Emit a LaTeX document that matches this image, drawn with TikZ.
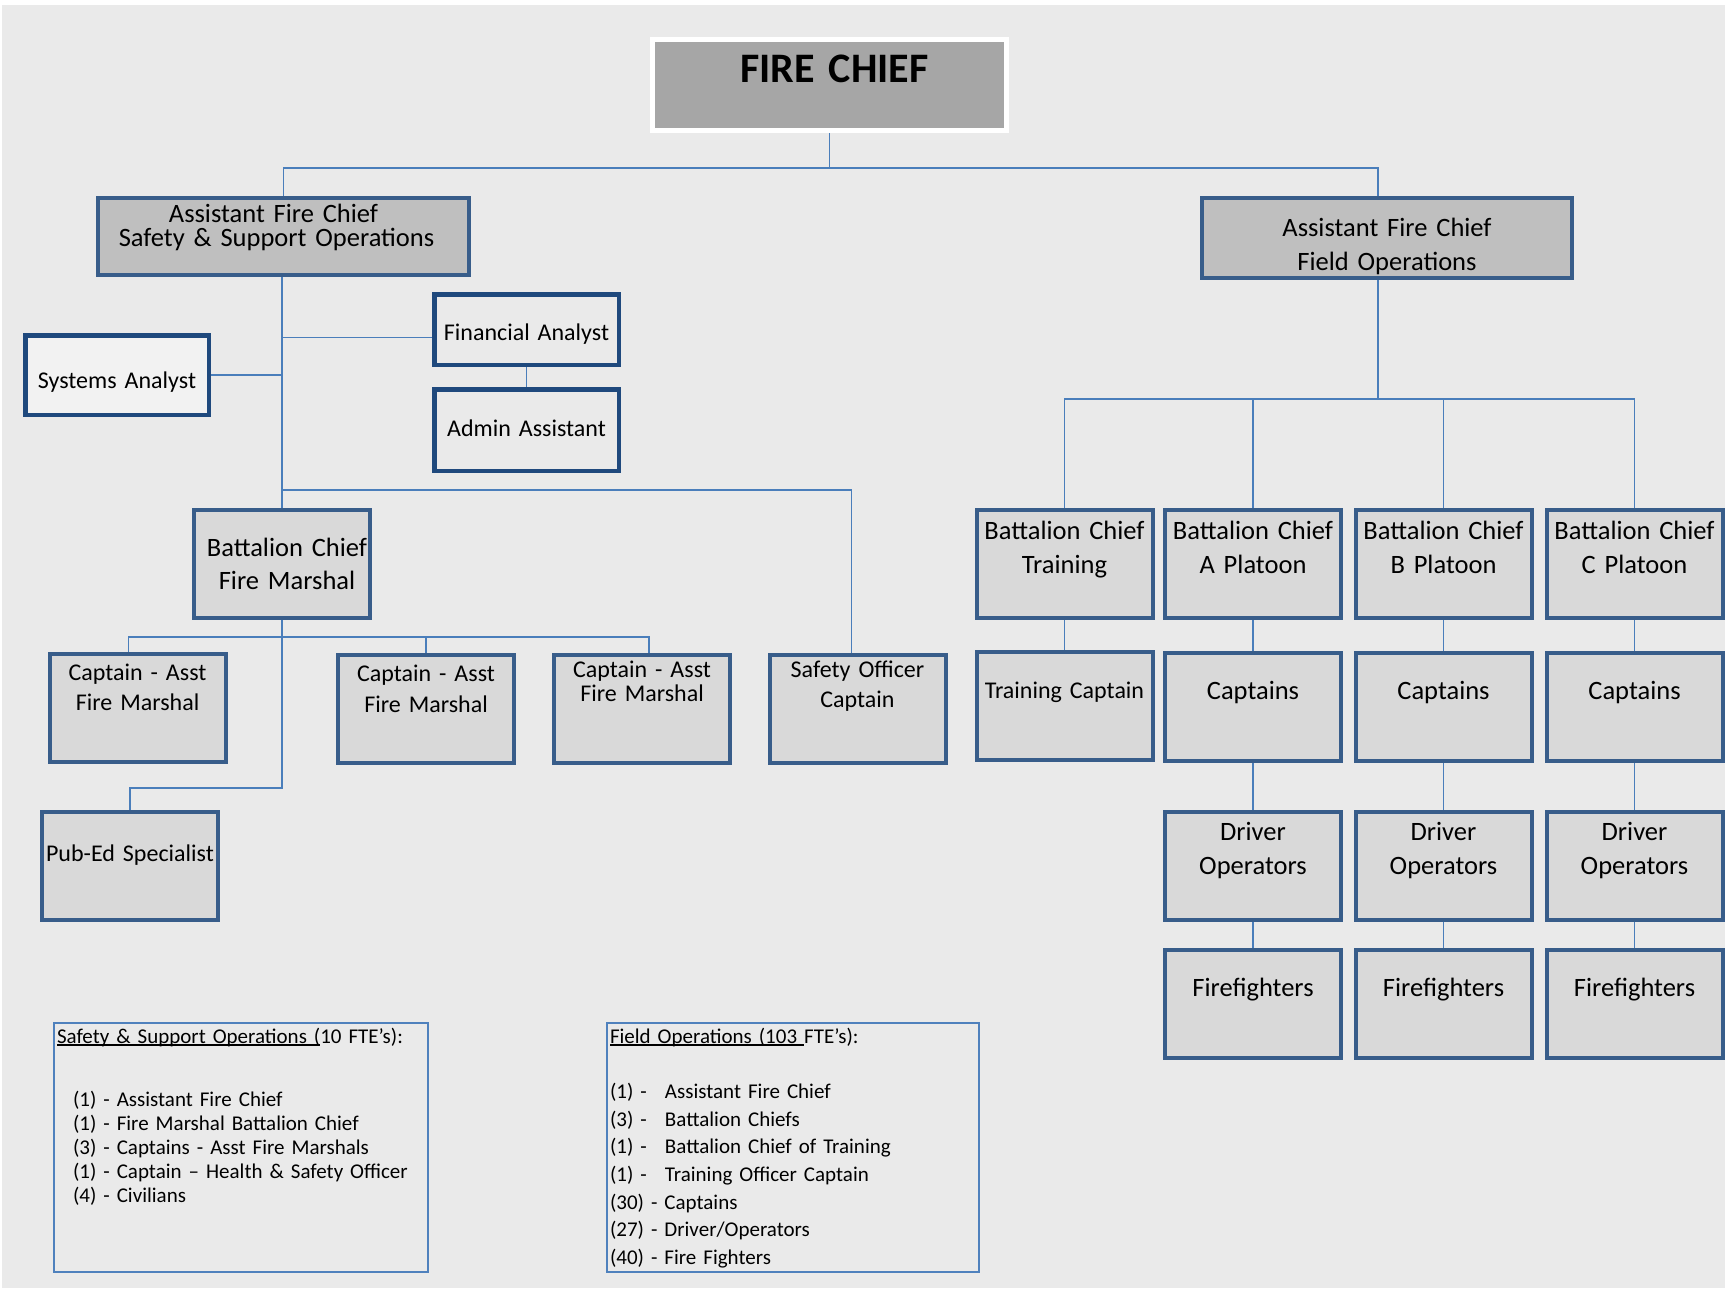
\documentclass[tikz,border=0pt]{standalone}
\usepackage{fontspec}
\setmainfont{Carlito}
\usepackage{xcolor}
\usepackage{tikz}

\definecolor{pagebg}{HTML}{EAEAEA}
\definecolor{boxline}{HTML}{385D8A}
\definecolor{navyline}{HTML}{1F497D}
\definecolor{wireblue}{HTML}{4A7EBB}
\definecolor{chiefgray}{HTML}{A6A6A6}
\definecolor{asstgray}{HTML}{BFBFBF}
\definecolor{unitgray}{HTML}{D9D9D9}
\definecolor{sysfill}{HTML}{F2F2F2}
\definecolor{noteline}{HTML}{4F81BD}

\newcommand\ulText[1]{\setbox0\hbox{#1}\rlap{\rule[-2.5pt]{\wd0}{1.3pt}}\box0\relax}

\begin{document}
\begin{tikzpicture}[x=1pt,y=-1pt,
  wire/.style={draw=wireblue,line width=1.5pt},
  box/.style={draw=boxline,line width=4pt,fill=unitgray,inner sep=0pt,align=center,text width=176pt},
  unitbox/.style 2 args={box,text height=#1,text depth=#2},
  staffbox/.style={draw=navyline,line width=4.5pt,fill=pagebg,inner sep=0pt,align=center,text width=184.5pt,smalltext},
  bigtext/.style={font=\fontsize{26.5}{34}\selectfont},
  smalltext/.style={font=\fontsize{24}{30.5}\selectfont},
  note/.style={draw=noteline,line width=2pt,inner xsep=3pt,inner ysep=0pt,align=left,text width=368pt,text height=20pt,text depth=229pt}]
\fill[pagebg] (2,5) rectangle (1725,1288);
\useasboundingbox (0,0) rectangle (1725,1290);

% top of the chart
\node[draw=white,line width=5pt,fill=chiefgray,inner sep=0pt,align=center,text width=354pt,text height=43.5pt,text depth=47.5pt,font=\fontsize{42}{50}\selectfont\bfseries] (chief) at (829.5,85) {\hspace*{10pt}FIRE CHIEF};
\node[box,fill=asstgray,text width=371pt,text height=24.7pt,text depth=52.3pt,font=\fontsize{26.5}{24}\selectfont] (asstSafety) at (283.5,236.5) {\hspace*{-20pt}Assistant Fire Chief\\\hspace*{-14pt}Safety \& Support Operations};
\node[box,fill=asstgray,text width=370pt,text height=38pt,text depth=42pt,bigtext] (asstField) at (1387,238) {Assistant Fire Chief\\Field Operations};

% safety & support side
\node[staffbox,text height=45.75pt,text depth=24.75pt] (finAnalyst) at (526.5,329.5) {Financial Analyst};
\node[staffbox,text height=47.5pt,text depth=34pt] (adminAsst) at (526.5,430) {Admin Assistant};
\node[staffbox,fill=sysfill,text width=183.5pt,text height=52.75pt,text depth=26.75pt] (sysAnalyst) at (117,375) {Systems Analyst};
\node[unitbox={46.7pt}{61.3pt},font=\fontsize{26.5}{33}\selectfont] (bcMarshal) at (282,564) {\hspace*{10pt}Battalion Chief\\\hspace*{10pt}Fire Marshal};
\node[unitbox={26pt}{82pt},smalltext] (capOne) at (137.5,708) {Captain - Asst\\Fire Marshal};
\node[unitbox={27pt}{81pt},smalltext] (capTwo) at (426,708.5) {Captain - Asst\\Fire Marshal};
\node[unitbox={22.7pt}{85.3pt},font=\fontsize{24}{24}\selectfont] (capThree) at (642,708.5) {Captain - Asst\\Fire Marshal};
\node[unitbox={22.7pt}{85.3pt},font=\fontsize{24}{30}\selectfont] (safetyCapt) at (857.5,708.5) {Safety Officer\\Captain};
\node[unitbox={49.7pt}{58.3pt},smalltext] (pubEd) at (130,865.5) {Pub-Ed Specialist};

% field side
\node[unitbox={29pt}{79pt},bigtext] (bcTrain) at (1064.5,564) {Battalion Chief\\Training};
\node[unitbox={46pt}{62pt},smalltext] (trainCapt) at (1064.5,706) {Training Captain};
\foreach \p/\x in {A/1253,B/1443.5,C/1634.5} {
  \node[unitbox={29pt}{79pt},bigtext] (bc\p) at (\x,564) {Battalion Chief\\\p\ Platoon};
  \node[unitbox={46pt}{62pt},bigtext] (capt\p) at (\x,707) {Captains};
  \node[unitbox={29pt}{79pt},bigtext] (drv\p) at (\x,865.5) {Driver\\Operators};
  \node[unitbox={46pt}{62pt},bigtext] (ff\p) at (\x,1004) {Firefighters};
  \draw[wire] (bc\p.south) -- (capt\p.north) (capt\p.south) -- (drv\p.north) (drv\p.south) -- (ff\p.north);
}

% connectors
\coordinate (chiefBus) at (0,168);
\coordinate (fieldBus) at (0,399);
\coordinate (staffBus) at (0,490);
\coordinate (captBus) at (0,637);
\coordinate (pubBus) at (0,788);
\coordinate (finLink) at ([yshift=-8pt]finAnalyst.west);
\coordinate (fieldTop) at ([xshift=-9pt]asstField.south);
\coordinate (capOneTop) at ([xshift=-9pt]capOne.north);
\coordinate (capThreeTop) at ([xshift=7pt]capThree.north);
\draw[wire] (chief.south) -- (chief.south |- chiefBus) -| (asstSafety.north);
\draw[wire] (chief.south |- chiefBus) -| ([xshift=-9pt]asstField.north);
\draw[wire] (bcMarshal.north |- asstSafety.south) -- (bcMarshal.north);
\draw[wire] (sysAnalyst.east) -- (sysAnalyst.east -| bcMarshal.north);
\draw[wire] (finLink) -- (finLink -| bcMarshal.north);
\draw[wire] (finAnalyst.south) -- (adminAsst.north);
\draw[wire] (bcMarshal.north |- staffBus) -| ([xshift=-6pt]safetyCapt.north);
\draw[wire] (bcMarshal.south) -- (bcMarshal.south |- pubBus) -| (pubEd.north);
\draw[wire] (capOneTop) |- (capThreeTop |- captBus) -- (capThreeTop);
\draw[wire] (capTwo.north) -- (capTwo.north |- captBus);
\draw[wire] (fieldTop) -- (fieldTop |- fieldBus);
\draw[wire] (bcTrain.north) |- (bcC.north |- fieldBus) -- (bcC.north);
\draw[wire] (bcA.north) -- (bcA.north |- fieldBus) (bcB.north) -- (bcB.north |- fieldBus);
\draw[wire] (bcTrain.south) -- (trainCapt.north);

% staffing notes
\node[note,font=\fontsize{21}{24.2}\selectfont] (safetyNote) at (241,1147.5) {\ulText{Safety \& Support Operations (}10 FTE's):\\[38.8pt]
\hspace*{16pt}(1) - Assistant Fire Chief\\
\hspace*{16pt}(1) - Fire Marshal Battalion Chief\\
\hspace*{16pt}(3) - Captains - Asst Fire Marshals\\
\hspace*{16pt}(1) - Captain -- Health \& Safety Officer\\
\hspace*{16pt}(4) - Civilians};
\node[note,text width=366pt,font=\fontsize{21}{27.7}\selectfont] (fieldNote) at (793,1147.5) {\ulText{Field Operations (103 }FTE's):\\[27.6pt]
\makebox[55pt][l]{(1) -}Assistant Fire Chief\\
\makebox[55pt][l]{(3) -}Battalion Chiefs\\
\makebox[55pt][l]{(1) -}Battalion Chief of Training\\
\makebox[55pt][l]{(1) -}Training Officer Captain\\
(30) - Captains\\
(27) - Driver/Operators\\
(40) - Fire Fighters};
\end{tikzpicture}
\end{document}
